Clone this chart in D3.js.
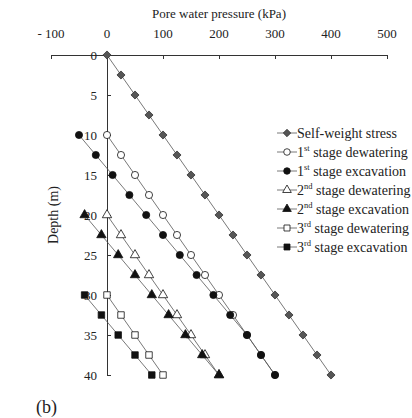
<!DOCTYPE html>
<html>
<head>
<meta charset="utf-8">
<script src="https://cdn.jsdelivr.net/npm/d3@7"></script>
<style>
  body { margin: 0; background: #fff; }
</style>
</head>
<body>
<svg id="chart" width="412" height="418"></svg>
<script>
// depth (m) and pore water pressure (kPa)
let selfDepth = [0, 2.5, 5, 7.5, 10, 12.5, 15, 17.5, 20, 22.5, 25, 27.5, 30, 32.5, 35, 37.5, 40];
let selfPwp = [0, 25, 50, 75, 100, 125, 150, 175, 200, 225, 250, 275, 300, 325, 350, 375, 400];

let stage1Depth = [10, 12.5, 15, 17.5, 20, 22.5, 25, 27.5, 30, 32.5, 35, 37.5, 40];
let dew1Pwp = [0, 25, 50, 75, 100, 125, 150, 175, 200, 225, 250, 275, 300];
let exc1Pwp = [-50, -20, 10, 40, 70, 100, 130, 160, 190, 220, 250, 275, 300];

let stage2Depth = [20, 22.5, 25, 27.5, 30, 32.5, 35, 37.5, 40];
let dew2Pwp = [0, 25, 50, 75, 100, 125, 150, 175, 200];
let exc2Pwp = [-40, -10, 20, 50, 80, 110, 140, 170, 200];

let stage3Depth = [30, 32.5, 35, 37.5, 40];
let dew3Pwp = [0, 25, 50, 75, 100];
let exc3Pwp = [-40, -10, 20, 50, 80];

let xTicks = [-100, 0, 100, 200, 300, 400, 500];
let yTicks = [0, 5, 10, 15, 20, 25, 30, 35, 40];

let series = [
    {name: "Self-weight stress", sup: "", rest: "", depth: selfDepth, pwp: selfPwp, sym: d3.symbolDiamond2, fill: "#555", size: 42},
    {name: "1", sup: "st", rest: " stage dewatering", depth: stage1Depth, pwp: dew1Pwp, sym: d3.symbolCircle, fill: "#fff", size: 40},
    {name: "1", sup: "st", rest: " stage excavation", depth: stage1Depth, pwp: exc1Pwp, sym: d3.symbolCircle, fill: "#111", size: 40},
    {name: "2", sup: "nd", rest: " stage dewatering", depth: stage2Depth, pwp: dew2Pwp, sym: d3.symbolTriangle, fill: "#fff", size: 38},
    {name: "2", sup: "nd", rest: " stage excavation", depth: stage2Depth, pwp: exc2Pwp, sym: d3.symbolTriangle, fill: "#111", size: 38},
    {name: "3", sup: "rd", rest: " stage dewatering", depth: stage3Depth, pwp: dew3Pwp, sym: d3.symbolSquare, fill: "#fff", size: 42},
    {name: "3", sup: "rd", rest: " stage excavation", depth: stage3Depth, pwp: exc3Pwp, sym: d3.symbolSquare, fill: "#111", size: 42}
];

let svg = d3.select("#chart")
    .attr("font-family", "'Liberation Serif', 'DejaVu Serif', serif");

let x = d3.scaleLinear().domain([-100, 500]).range([51, 387]);
let y = d3.scaleLinear().domain([0, 40]).range([55, 375]);

// x axis on top, ticks pointing into the plot
let xAxis = svg.append("g")
    .attr("transform", "translate(0," + y(0) + ")")
    .call(d3.axisBottom(x).tickValues(xTicks).tickSize(4).tickFormat(""));
xAxis.select(".domain").attr("stroke", "#333");
xAxis.selectAll(".tick line").attr("stroke", "#333");

svg.append("g").selectAll("text")
    .data(xTicks)
    .enter().append("text")
    .attr("x", d => x(d))
    .attr("y", 38)
    .attr("text-anchor", "middle")
    .attr("font-size", 13)
    .attr("fill", "#222")
    .text(d => d < 0 ? "- " + Math.abs(d) : d);

svg.append("text")
    .attr("x", x(200))
    .attr("y", 18)
    .attr("text-anchor", "middle")
    .attr("font-size", 13)
    .attr("fill", "#222")
    .text("Pore water pressure (kPa)");

// y axis, ticks pointing right
let yAxis = svg.append("g")
    .attr("transform", "translate(" + x(0) + ",0)")
    .call(d3.axisRight(y).tickValues(yTicks).tickSize(4).tickFormat(""));
yAxis.select(".domain").attr("stroke", "#333");
yAxis.selectAll(".tick line").attr("stroke", "#333");

svg.append("g").selectAll("text")
    .data(yTicks)
    .enter().append("text")
    .attr("x", x(0) - 10)
    .attr("y", d => y(d) + 4.5)
    .attr("text-anchor", "end")
    .attr("font-size", 13)
    .attr("fill", "#222")
    .text(d => d);

svg.append("text")
    .attr("transform", "translate(58," + y(20) + ") rotate(-90)")
    .attr("text-anchor", "middle")
    .attr("font-size", 14)
    .attr("fill", "#222")
    .text("Depth (m)");

let line = d3.line()
    .x(d => x(d[1]))
    .y(d => y(d[0]));

series.forEach(function (s) {
    let pts = s.depth.map((d, i) => [d, s.pwp[i]]);
    svg.append("path")
        .datum(pts)
        .attr("d", line)
        .attr("fill", "none")
        .attr("stroke", "#555")
        .attr("stroke-width", 0.8);
});

series.forEach(function (s) {
    let pts = s.depth.map((d, i) => [d, s.pwp[i]]);
    svg.append("g").selectAll("path")
        .data(pts)
        .enter().append("path")
        .attr("transform", d => "translate(" + x(d[1]) + "," + y(d[0]) + ")")
        .attr("d", d3.symbol().type(s.sym).size(s.size))
        .attr("fill", s.fill)
        .attr("stroke", s.fill === "#555" ? "#333" : "#111")
        .attr("stroke-width", 0.8);
});

// legend
let legend = svg.append("g");
series.forEach(function (s, i) {
    let ly = 133 + i * 19;
    legend.append("line")
        .attr("x1", 277).attr("x2", 297)
        .attr("y1", ly).attr("y2", ly)
        .attr("stroke", "#555").attr("stroke-width", 0.8);
    legend.append("path")
        .attr("transform", "translate(287," + ly + ")")
        .attr("d", d3.symbol().type(s.sym).size(s.size * 0.85))
        .attr("fill", s.fill)
        .attr("stroke", s.fill === "#555" ? "#333" : "#111")
        .attr("stroke-width", 0.8);
    let t = legend.append("text")
        .attr("x", 297)
        .attr("y", ly + 4.5)
        .attr("font-size", 14)
        .attr("fill", "#222");
    t.append("tspan").text(s.name);
    if (s.sup) {
        t.append("tspan").attr("dy", -5.5).attr("font-size", 8.5).text(s.sup);
        t.append("tspan").attr("dy", 5.5).text(s.rest);
    }
});

svg.append("text")
    .attr("x", 36)
    .attr("y", 413)
    .attr("font-size", 18)
    .attr("fill", "#222")
    .text("(b)");
</script>
</body>
</html>
